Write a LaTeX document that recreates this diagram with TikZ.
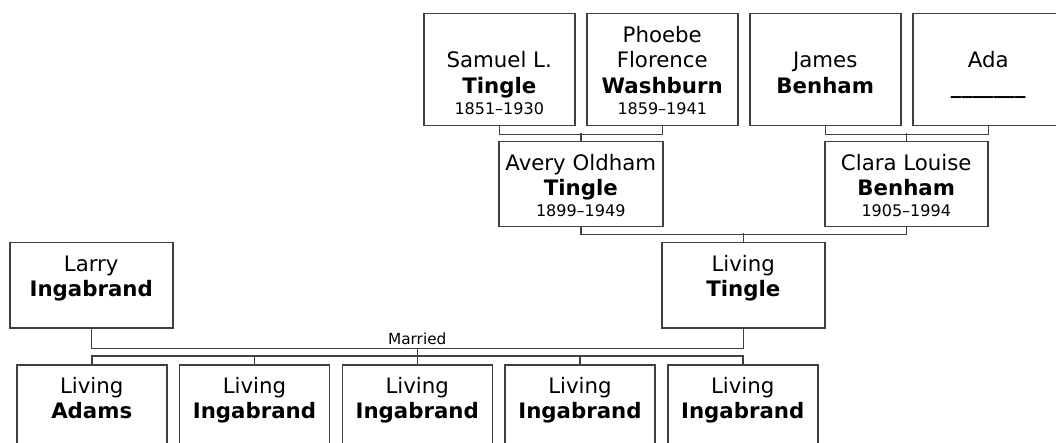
\documentclass[tikz,border=0pt]{standalone}
\usepackage{fontspec}
\setmainfont{DejaVu Sans}
\usetikzlibrary{calc}
\newcommand{\card}[3]{\parbox[t][#2][t]{#1}{\centering\fontsize{21.3}{25.5}\selectfont\rule{0pt}{28.5pt}#3}}
\newcommand{\yrs}[1]{{\fontsize{16}{19}\selectfont #1}}

\begin{document}
\begin{tikzpicture}[x=1pt, y=-1pt,
    person/.style={draw=black!75, line width=1.5pt, rectangle, inner sep=0pt, anchor=north west},
    link/.style={draw=black!75, line width=1.5pt}]
  \useasboundingbox (0,0) rectangle (1056,443);

  % great-grandparents
  \node[person] (samuel) at (423,13) {\card{151pt}{112pt}{\\Samuel L.\\\textbf{Tingle}\\[-4.5pt]\yrs{1851--1930}}};
  \node[person] (phoebe) at (586,13) {\card{151pt}{112pt}{Phoebe\\Florence\\\textbf{Washburn}\\[-4.5pt]\yrs{1859--1941}}};
  \node[person] (james) at (749,13) {\card{151pt}{112pt}{\\James\\\textbf{Benham}}};
  \node[person] (ada) at (912,13) {\card{151pt}{112pt}{\\Ada\\\textbf{\_\_\_\_\_\_\_}}};

  % grandparents
  \node[person] (avery) at (498,141) {\card{164pt}{85pt}{Avery Oldham\\\textbf{Tingle}\\[-4.5pt]\yrs{1899--1949}}};
  \node[person] (clara) at (824,141) {\card{163pt}{85pt}{Clara Louise\\\textbf{Benham}\\[-4.5pt]\yrs{1905--1994}}};

  % parents
  \node[person] (larry) at (9,242) {\card{163pt}{85pt}{Larry\\\textbf{Ingabrand}}};
  \node[person] (ltingle) at (661,242) {\card{163pt}{85pt}{Living\\\textbf{Tingle}}};

  % children
  \node[person] (c1) at (16,364) {\card{150pt}{85pt}{Living\\\textbf{Adams}}};
  \node[person] (c2) at (178.75,364) {\card{150pt}{85pt}{Living\\\textbf{Ingabrand}}};
  \node[person] (c3) at (341.5,364) {\card{150pt}{85pt}{Living\\\textbf{Ingabrand}}};
  \node[person] (c4) at (504.25,364) {\card{150pt}{85pt}{Living\\\textbf{Ingabrand}}};
  \node[person] (c5) at (667,364) {\card{150pt}{85pt}{Living\\\textbf{Ingabrand}}};

  \draw[link] (samuel.south) -- ++(0,8) -| (phoebe.south);
  \draw[link] (avery.north) -- ++(0,-8);
  \draw[link] (james.south) -- ++(0,8) -| (ada.south);
  \draw[link] (clara.north) -- ++(0,-8);
  \draw[link] (avery.south) -- ++(0,7) -| (clara.south);
  \draw[link] (ltingle.north) -- ++(0,-9);
  \draw[link] (larry.south) |- coordinate[pos=0.75] (wed)
    node[pos=0.75, above, font=\fontsize{15.3}{18}\selectfont] {Married}
    ($(ltingle.south)+(0,20)$) -- (ltingle.south);
  \draw[link] (c1.north) -- ++(0,-8) -| (c5.north);
  \draw[link] (wed) -- (c3.north);
  \foreach \k in {2,4} \draw[link] (c\k.north) -- ++(0,-8);
\end{tikzpicture}
\end{document}
